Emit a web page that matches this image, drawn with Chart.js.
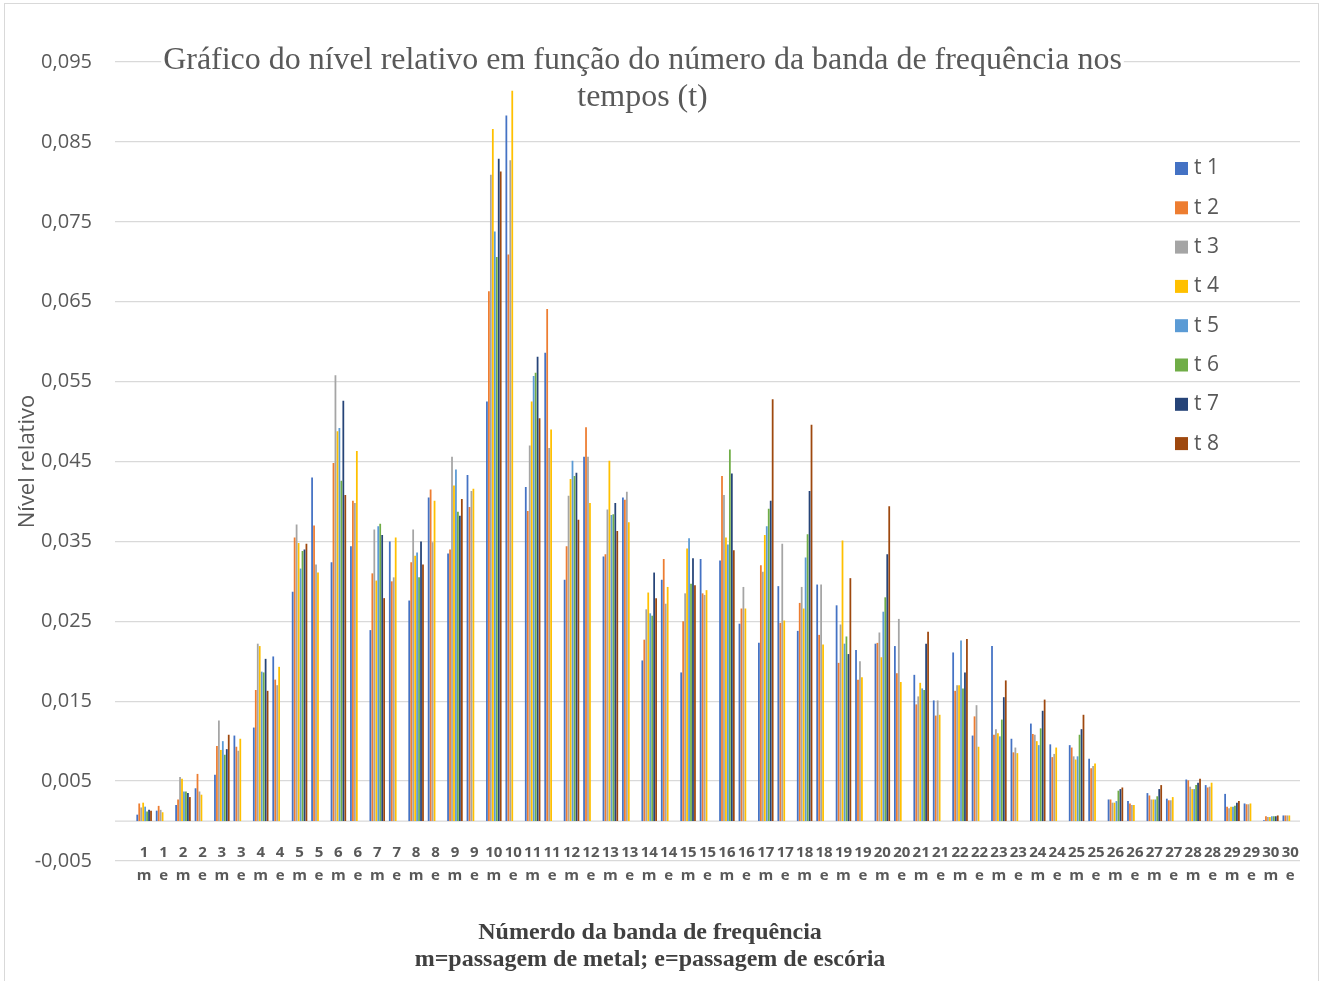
<!DOCTYPE html>
<html><head><meta charset="utf-8">
<script src="https://cdn.jsdelivr.net/npm/chart.js@4.4.1/dist/chart.umd.min.js"></script>
<style>
html,body{margin:0;padding:0;background:#fff;overflow:hidden;}
#wrap{position:relative;width:1326px;height:981px;}
#frame{position:absolute;left:4px;top:3px;width:1315px;height:1000px;border:1.5px solid #d9d9d9;box-sizing:border-box;pointer-events:none;}
canvas{position:absolute;left:0;top:0;}
</style></head><body>
<div id="wrap"><canvas id="c" width="1326" height="981"></canvas><div id="frame"></div></div>
<script>
const bands = [1,2,3,4,5,6,7,8,9,10,11,12,13,14,15,16,17,18,19,20,21,22,23,24,25,26,27,28,29,30];
const passages = ['m','e'];
const seriesNames = ['t 1','t 2','t 3','t 4','t 5','t 6','t 7','t 8'];
const seriesColors = ['#4472C4','#ED7D31','#A5A5A5','#FFC000','#5B9BD5','#70AD47','#264478','#9E480E'];
const yTickValues = [-0.005,0.005,0.015,0.025,0.035,0.045,0.055,0.065,0.075,0.085,0.095];
const titleLines = ['Gráfico do nível relativo em função do número da banda de frequência nos','tempos (t)'];
const xTitleLines = ['Númerdo da banda de frequência','m=passagem de metal; e=passagem de escória'];
const yTitle = 'Nível relativo';

const t1 = [.0008,.0013,.0020,.0041,.0058,.0107,.0117,.0206,.0287,.0430,
            .0324,.0344,.0239,.0350,.0276,.0405,.0335,.0433,.0525,.0883,
            .0418,.0586,.0302,.0456,.0331,.0405,.0201,.0302,.0186,.0328,
            .0326,.0247,.0223,.0294,.0238,.0296,.0270,.0214,.0222,.0219,
            .0183,.0151,.0211,.0107,.0219,.0103,.0122,.0096,.0095,.0078,
            .0027,.0025,.0035,.0028,.0052,.0045,.0034,.0022,.0001,.0007];
const t2 = [.0022,.0019,.0027,.0059,.0094,.0093,.0164,.0177,.0355,.0370,
            .0448,.0401,.0310,.0300,.0324,.0415,.0340,.0393,.0663,.0709,
            .0388,.0641,.0344,.0493,.0334,.0402,.0227,.0328,.0250,.0285,
            .0432,.0266,.0320,.0248,.0273,.0233,.0198,.0177,.0223,.0185,
            .0146,.0132,.0163,.0131,.0108,.0086,.0109,.0080,.0092,.0066,
            .0027,.0022,.0032,.0026,.0051,.0042,.0018,.0021,.0006,.0007];
const t3 = [.0017,.0014,.0055,.0037,.0126,.0088,.0222,.0170,.0371,.0321,
            .0558,.0398,.0365,.0305,.0365,.0349,.0456,.0413,.0809,.0827,
            .0470,.0467,.0407,.0456,.0390,.0412,.0265,.0272,.0285,.0283,
            .0408,.0293,.0312,.0347,.0293,.0296,.0246,.0200,.0236,.0253,
            .0156,.0151,.0170,.0145,.0115,.0092,.0108,.0084,.0081,.0069,
            .0023,.0020,.0027,.0026,.0043,.0043,.0016,.0021,.0005,.0007];
const t4 = [.0023,.0011,.0053,.0033,.0089,.0103,.0219,.0193,.0348,.0311,
            .0488,.0463,.0301,.0355,.0332,.0401,.0420,.0416,.0866,.0914,
            .0525,.0490,.0428,.0398,.0451,.0374,.0286,.0293,.0341,.0289,
            .0355,.0266,.0358,.0251,.0266,.0221,.0351,.0180,.0205,.0174,
            .0173,.0133,.0170,.0093,.0110,.0085,.0100,.0092,.0077,.0072,
            .0023,.0020,.0027,.0030,.0040,.0048,.0018,.0022,.0005,.0007];
const t5 = [.0018,null,.0037,null,.0100,null,.0187,null,.0316,null,
            .0492,null,.0369,null,.0336,null,.0440,null,.0738,null,
            .0557,null,.0451,null,.0383,null,.0260,null,.0354,null,
            .0346,null,.0369,null,.0330,null,.0222,null,.0262,null,
            .0166,null,.0226,null,.0106,null,.0095,null,.0081,null,
            .0025,null,.0027,null,.0040,null,.0018,null,.0006,null];
const t6 = [.0012,null,.0037,null,.0083,null,.0186,null,.0338,null,
            .0426,null,.0372,null,.0305,null,.0387,null,.0706,null,
            .0561,null,.0432,null,.0384,null,.0257,null,.0297,null,
            .0465,null,.0391,null,.0359,null,.0231,null,.0280,null,
            .0164,null,.0166,null,.0127,null,.0116,null,.0108,null,
            .0038,null,.0031,null,.0045,null,.0019,null,.0006,null];
const t7 = [.0014,null,.0035,null,.0090,null,.0203,null,.0340,null,
            .0526,null,.0358,null,.0350,null,.0382,null,.0829,null,
            .0581,null,.0436,null,.0398,null,.0311,null,.0329,null,
            .0435,null,.0401,null,.0413,null,.0209,null,.0334,null,
            .0222,null,.0186,null,.0155,null,.0138,null,.0115,null,
            .0040,null,.0040,null,.0048,null,.0023,null,.0006,null];
const t8 = [.0013,null,.0030,null,.0108,null,.0163,null,.0347,null,
            .0408,null,.0279,null,.0321,null,.0403,null,.0813,null,
            .0504,null,.0377,null,.0363,null,.0279,null,.0295,null,
            .0339,null,.0528,null,.0496,null,.0304,null,.0394,null,
            .0237,null,.0228,null,.0176,null,.0152,null,.0133,null,
            .0042,null,.0045,null,.0053,null,.0025,null,.0007,null];

// leading blank category (as in the source sheet)
const categories = [['','']].concat(bands.flatMap(b => passages.map(p => [String(b), p])));
const seriesValues = [t1,t2,t3,t4,t5,t6,t7,t8];

const datasets = seriesValues.map((vals, i) => ({
  label: seriesNames[i],
  data: [null].concat(vals),
  backgroundColor: seriesColors[i],
  borderWidth: 0,
  categoryPercentage: 0.81,
  barPercentage: 0.9
}));

const GRID = '#d9d9d9';
const TXT = '#595959';

const decor = {
  id: 'decor',
  beforeDatasetsDraw(chart) {
    const {ctx, chartArea, scales} = chart;
    const y0 = scales.y.getPixelForValue(0);
    ctx.save();
    ctx.strokeStyle = GRID; ctx.lineWidth = 1.3;
    ctx.beginPath(); ctx.moveTo(chartArea.left, y0); ctx.lineTo(chartArea.right, y0); ctx.stroke();
    // chart title (overlapping plot area, with white backing like the original)
    const lines = chart.options.plugins.title.text;
    ctx.font = '30px "Liberation Serif"';
    const w0 = ctx.measureText(lines[0]).width;
    const size = 30 * 959 / w0;
    ctx.font = size.toFixed(2) + 'px "Liberation Serif"';
    ctx.textAlign = 'center'; ctx.textBaseline = 'alphabetic';
    const cx = 642.5;
    const baselines = [68.5, 105.5];
    lines.forEach((line, i) => {
      const lw = ctx.measureText(line).width;
      ctx.fillStyle = '#fff';
      ctx.fillRect(cx - lw / 2 - 2, baselines[i] - size * 0.78, lw + 4, size * 0.98);
      ctx.fillStyle = TXT;
      ctx.fillText(line, cx, baselines[i]);
    });
    ctx.restore();
  },
  afterDatasetsDraw(chart) {
    const {ctx} = chart;
    ctx.save();
    ctx.font = '21px "Open Sans"';
    ctx.textBaseline = 'middle'; ctx.textAlign = 'left';
    chart.data.datasets.forEach((d, i) => {
      const yc = 168.5 + 39.3 * i;
      ctx.fillStyle = d.backgroundColor;
      ctx.fillRect(1175, yc - 6.5, 13, 13);
      ctx.fillStyle = TXT;
      ctx.fillText(d.label, 1194, yc);
    });
    ctx.restore();
  }
};

new Chart(document.getElementById('c'), {
  type: 'bar',
  data: { labels: categories, datasets },
  plugins: [decor],
  options: {
    responsive: false,
    animation: false,
    devicePixelRatio: 1,
    layout: { padding: { left: 0, right: 26, top: 62, bottom: 0 } },
    plugins: {
      legend: { display: false },
      tooltip: { enabled: false },
      title: { display: false, text: titleLines },
      subtitle: {
        display: true,
        position: 'bottom',
        text: xTitleLines,
        color: '#404040',
        font: { family: '"Liberation Serif"', size: 24, weight: 'bold', lineHeight: '27px' },
        padding: { top: 58.5, bottom: 7.5 }
      }
    },
    scales: {
      x: {
        position: { y: 0 },
        grid: { display: false },
        border: { display: false },
        ticks: {
          autoSkip: false, maxRotation: 0, minRotation: 0,
          color: TXT,
          font: { family: '"Open Sans"', size: 15, weight: 'bold', lineHeight: '23px' },
          padding: 12.5
        },
        afterFit(s) { s.paddingLeft = 0; s.paddingRight = 0; }
      },
      y: {
        min: -0.005, max: 0.095,
        afterBuildTicks(s) { s.ticks = yTickValues.map(v => ({ value: v })); },
        grid: { color: GRID, lineWidth: 1.3, drawTicks: false },
        border: { display: false },
        ticks: {
          color: TXT, padding: 23,
          font: { family: '"Open Sans"', size: 20 },
          callback: v => v.toFixed(3).replace('.', ',')
        },
        title: {
          display: true, text: yTitle, color: TXT,
          font: { family: '"Open Sans"', size: 22 },
          padding: { top: 14.8, bottom: 0 }
        },
        afterFit(s) { s.width = 115; }
      }
    }
  }
});
</script>
</body></html>
